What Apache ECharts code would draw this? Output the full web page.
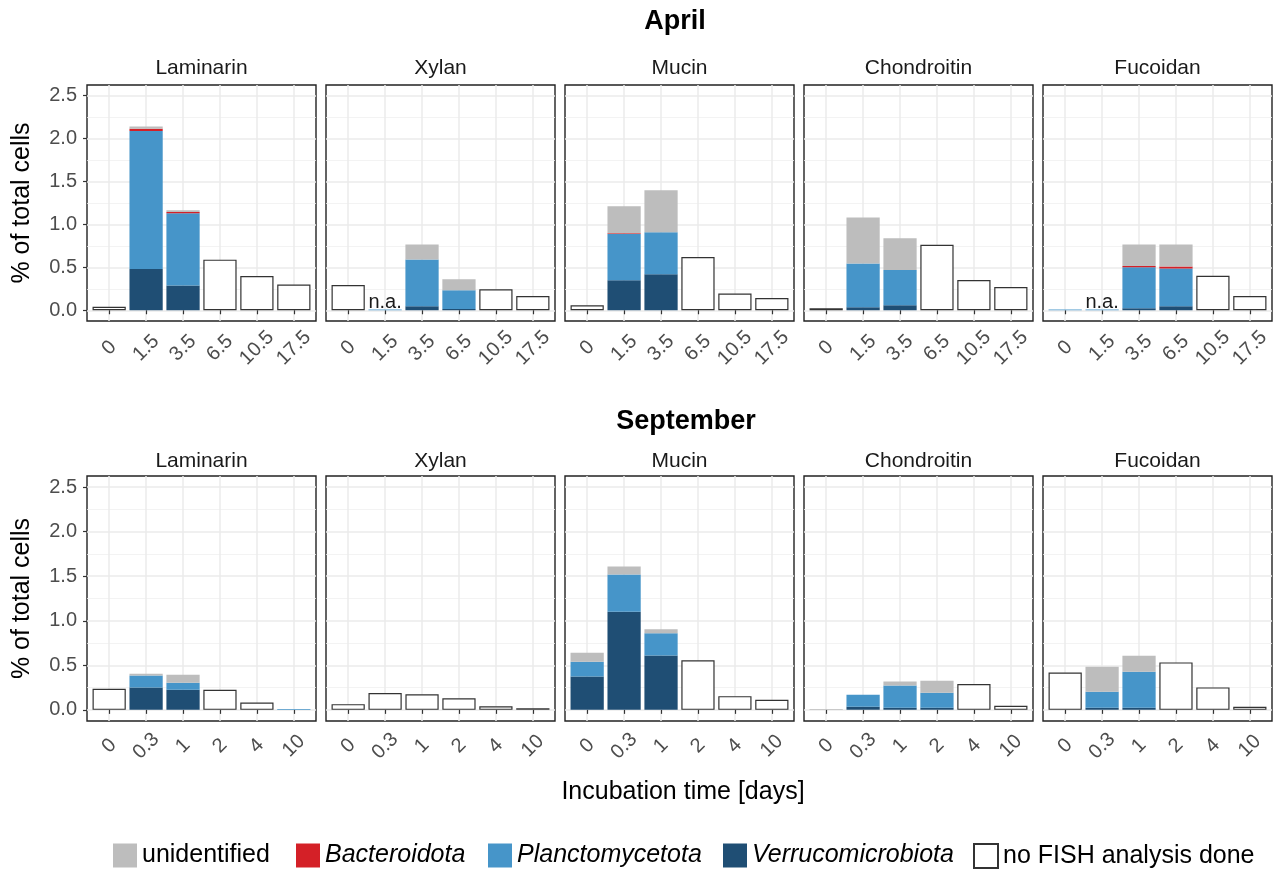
<!DOCTYPE html>
<html>
<head>
<meta charset="utf-8">
<script src="https://cdn.jsdelivr.net/npm/echarts@6/dist/echarts.min.js"></script>
<style>
html, body { margin: 0; padding: 0; background: #fff; }
#chart { width: 1277px; height: 871px; }
</style>
</head>
<body>
<div id="chart"></div>
<script>
// facets and time points
var substrates = ['Laminarin', 'Xylan', 'Mucin', 'Chondroitin', 'Fucoidan'];
var aprilDays = ['0', '1.5', '3.5', '6.5', '10.5', '17.5'];
var septDays = ['0', '0.3', '1', '2', '4', '10'];
var yTicks = [0, 0.5, 1, 1.5, 2, 2.5];
var yMinor = [0.25, 0.75, 1.25, 1.75, 2.25];

// April, one row per substrate (% of total cells)
var aprVerruco = [
    [null, 0.48, 0.29, null, null, null],
    [null, null, 0.047, 0.016, null, null],
    [null, 0.35, 0.42, null, null, null],
    [null, 0.035, 0.058, null, null, null],
    [null, null, 0.023, 0.047, null, null]
];
var aprPlancto = [
    [null, 1.61, 0.84, null, null, null],
    [null, 0.01, 0.546, 0.217, null, null],
    [null, 0.54, 0.49, null, null, null],
    [null, 0.51, 0.41, null, null, null],
    [0.01, 0.01, 0.477, 0.44, null, null]
];
var aprBactero = [
    [null, 0.025, 0.015, null, null, null],
    [null, null, null, null, null, null],
    [null, 0.007, null, null, null, null],
    [null, null, null, null, null, null],
    [null, null, 0.016, 0.023, null, null]
];
var aprUnident = [
    [null, 0.025, 0.02, null, null, null],
    [null, null, 0.174, 0.128, null, null],
    [null, 0.314, 0.49, null, null, null],
    [null, 0.535, 0.37, null, null, null],
    [null, null, 0.25, 0.257, null, null]
];
var aprNoFish = [
    [0.04, null, null, 0.59, 0.40, 0.30],
    [0.295, null, null, null, 0.244, 0.167],
    [0.058, null, null, 0.62, 0.194, 0.143],
    [0.023, null, null, 0.764, 0.353, 0.271],
    [null, null, null, null, 0.403, 0.167]
];
var aprNotAnalysed = [[], [1], [], [], [1]];

// September
var sepVerruco = [
    [null, 0.25, 0.225, null, null, null],
    [null, null, null, null, null, null],
    [0.375, 1.10, 0.61, null, null, null],
    [null, 0.034, 0.023, 0.023, null, null],
    [null, 0.023, 0.023, null, null, null]
];
var sepPlancto = [
    [null, 0.135, 0.08, null, null, 0.01],
    [null, null, null, null, null, null],
    [0.165, 0.42, 0.25, null, null, null],
    [null, 0.135, 0.25, 0.17, null, null],
    [null, 0.18, 0.405, null, null, null]
];
var sepBactero = [
    [null, null, null, null, null, null],
    [null, null, null, null, null, null],
    [null, null, null, null, null, null],
    [null, null, null, null, null, null],
    [null, null, null, null, null, null]
];
var sepUnident = [
    [null, 0.02, 0.09, null, null, null],
    [null, null, null, null, null, null],
    [0.10, 0.09, 0.045, null, null, null],
    [0.011, null, 0.045, 0.135, null, null],
    [null, 0.28, 0.18, null, null, null]
];
var sepNoFish = [
    [0.236, null, null, 0.225, 0.083, null],
    [0.064, 0.188, 0.176, 0.131, 0.041, 0.019],
    [null, null, null, 0.556, 0.154, 0.113],
    [null, null, null, null, 0.289, 0.045],
    [0.42, null, null, 0.533, 0.252, 0.034]
];
var sepNotAnalysed = [[], [], [], [], []];

var font = 'Liberation Sans, Arial, sans-serif';
var colors = {
    'unidentified': '#BDBDBD',
    'Bacteroidota': '#D42027',
    'Planctomycetota': '#4695C9',
    'Verrucomicrobiota': '#1F4E74',
    'no FISH analysis done': '#FFFFFF'
};
var italicNames = ['Bacteroidota', 'Planctomycetota', 'Verrucomicrobiota'];

var rows = [
    { title: 'April', titleX: 675, titleY: 22, stripY: 68, top: 85, height: 236, days: aprilDays, labelGap: 27,
      series: [['Verrucomicrobiota', aprVerruco], ['Planctomycetota', aprPlancto], ['Bacteroidota', aprBactero],
               ['unidentified', aprUnident], ['no FISH analysis done', aprNoFish]], na: aprNotAnalysed },
    { title: 'September', titleX: 686, titleY: 422, stripY: 461, top: 476, height: 245, days: septDays, labelGap: 25,
      series: [['Verrucomicrobiota', sepVerruco], ['Planctomycetota', sepPlancto], ['Bacteroidota', sepBactero],
               ['unidentified', sepUnident], ['no FISH analysis done', sepNoFish]], na: sepNotAnalysed }
];

var panelLeft = 87, panelStep = 239, panelW = 229;
var inset = panelW * 0.1 / 6.2;   // ggplot pads a discrete axis by 0.6, echarts by 0.5
var xPos = [1, 2, 3, 4, 5, 6];
var nPanels = rows.length * substrates.length;

var grids = [], xAxes = [], yAxes = [], series = [], graphics = [];
var barGrids = [], barX = [], barY = [];

rows.forEach(function (row, r) {
    graphics.push({
        type: 'text', x: row.titleX, y: row.titleY,
        style: { text: row.title, font: 'bold 27px ' + font, fill: '#000', textAlign: 'center', textVerticalAlign: 'middle' }
    });
    substrates.forEach(function (sub, s) {
        var g = r * substrates.length + s;
        var left = panelLeft + s * panelStep;
        // frame grid: border, grid lines, ticks and labels
        grids.push({ left: left, top: row.top, width: panelW, height: row.height,
            show: true, borderColor: '#222', borderWidth: 1.4, backgroundColor: 'transparent' });
        // bar grid, inset so category centres sit on the frame ticks
        barGrids.push({ left: left + inset, top: row.top, width: panelW - 2 * inset, height: row.height });
        graphics.push({
            type: 'text', x: left + panelW / 2, y: row.stripY,
            style: { text: sub, font: '21px ' + font, fill: '#1a1a1a', textAlign: 'center', textVerticalAlign: 'middle' }
        });
        var days = row.days;
        xAxes.push({
            type: 'value', gridIndex: g, min: 0.4, max: 6.6,
            axisLine: { show: false },
            axisTick: { show: true, customValues: xPos, length: 4, lineStyle: { color: '#333', width: 1.2 } },
            axisLabel: { customValues: xPos, rotate: 45, align: 'center', verticalAlign: 'middle',
                fontSize: 20, color: '#4d4d4d', margin: row.labelGap, fontFamily: font,
                formatter: function (v) { return days[Math.round(v) - 1]; } },
            splitLine: { show: true, lineStyle: { color: '#EBEBEB', width: 1.5 } }
        });
        var first = s === 0;
        yAxes.push({
            type: 'value', gridIndex: g, min: -0.125, max: 2.625,
            name: first ? '% of total cells' : '', nameLocation: 'middle', nameGap: 52,
            nameTextStyle: { fontSize: 25, color: '#000', fontFamily: font },
            axisLine: { show: false },
            axisTick: { show: first, customValues: yTicks, length: 4, lineStyle: { color: '#333', width: 1.2 } },
            axisLabel: { show: first, customValues: yTicks, fontSize: 20, color: '#4d4d4d', margin: 10, fontFamily: font,
                formatter: function (v) { return v.toFixed(1); } },
            splitLine: { show: true, lineStyle: { color: '#EBEBEB', width: 1.5 } }
        });
        yAxes.push({
            type: 'value', gridIndex: g, min: -0.125, max: 2.625, position: 'right',
            axisLine: { show: false },
            axisTick: { show: false, customValues: yMinor },
            axisLabel: { show: false, customValues: yMinor },
            splitLine: { show: true, lineStyle: { color: '#F0F0F0', width: 0.8 } }
        });
        barX.push({ type: 'category', gridIndex: nPanels + g, data: days, show: false });
        barY.push({ type: 'value', gridIndex: nPanels + g, min: -0.125, max: 2.625, show: false });

        row.series.forEach(function (pair) {
            var name = pair[0], vals = pair[1][s];
            var noFish = name === 'no FISH analysis done';
            series.push({
                type: 'bar', name: name, xAxisIndex: nPanels + g, yAxisIndex: 2 * nPanels + g, stack: 'p' + g,
                barWidth: '90%', silent: true,
                itemStyle: noFish ? { color: '#fff', borderColor: '#333', borderWidth: 1.2 } : { color: colors[name] },
                data: vals.map(function (v, i) {
                    var item = { value: v };
                    if (name === 'Planctomycetota' && row.na[s].indexOf(i) >= 0) {
                        item.label = { show: true, position: 'top', distance: -3, formatter: 'n.a.',
                            fontSize: 20, color: '#1a1a1a', fontFamily: font };
                    }
                    return item;
                })
            });
        });
    });
});

graphics.push({
    type: 'text', x: 683, y: 792,
    style: { text: 'Incubation time [days]', font: '25px ' + font, fill: '#000', textAlign: 'center', textVerticalAlign: 'middle' }
});

var legendNames = ['unidentified', 'Bacteroidota', 'Planctomycetota', 'Verrucomicrobiota', 'no FISH analysis done'];
var legendX = [108, 291, 483, 718, 968];
var legends = legendNames.map(function (n, i) {
    return {
        data: [n], left: legendX[i], top: 838, icon: 'rect', itemWidth: 24, itemHeight: 24,
        selectedMode: false,
        textStyle: { fontSize: 25, color: '#000', fontFamily: font,
            rich: { i: { fontStyle: 'italic', fontSize: 25, fontFamily: font, color: '#000' } } },
        formatter: function (name) { return italicNames.indexOf(name) >= 0 ? '{i|' + name + '}' : name; }
    };
});

var myChart = echarts.init(document.getElementById('chart'));
myChart.setOption({
    animation: false,
    backgroundColor: '#fff',
    textStyle: { fontFamily: font },
    grid: grids.concat(barGrids),
    xAxis: xAxes.concat(barX),
    yAxis: yAxes.concat(barY),
    legend: legends,
    graphic: graphics,
    series: series
});
</script>
</body>
</html>
